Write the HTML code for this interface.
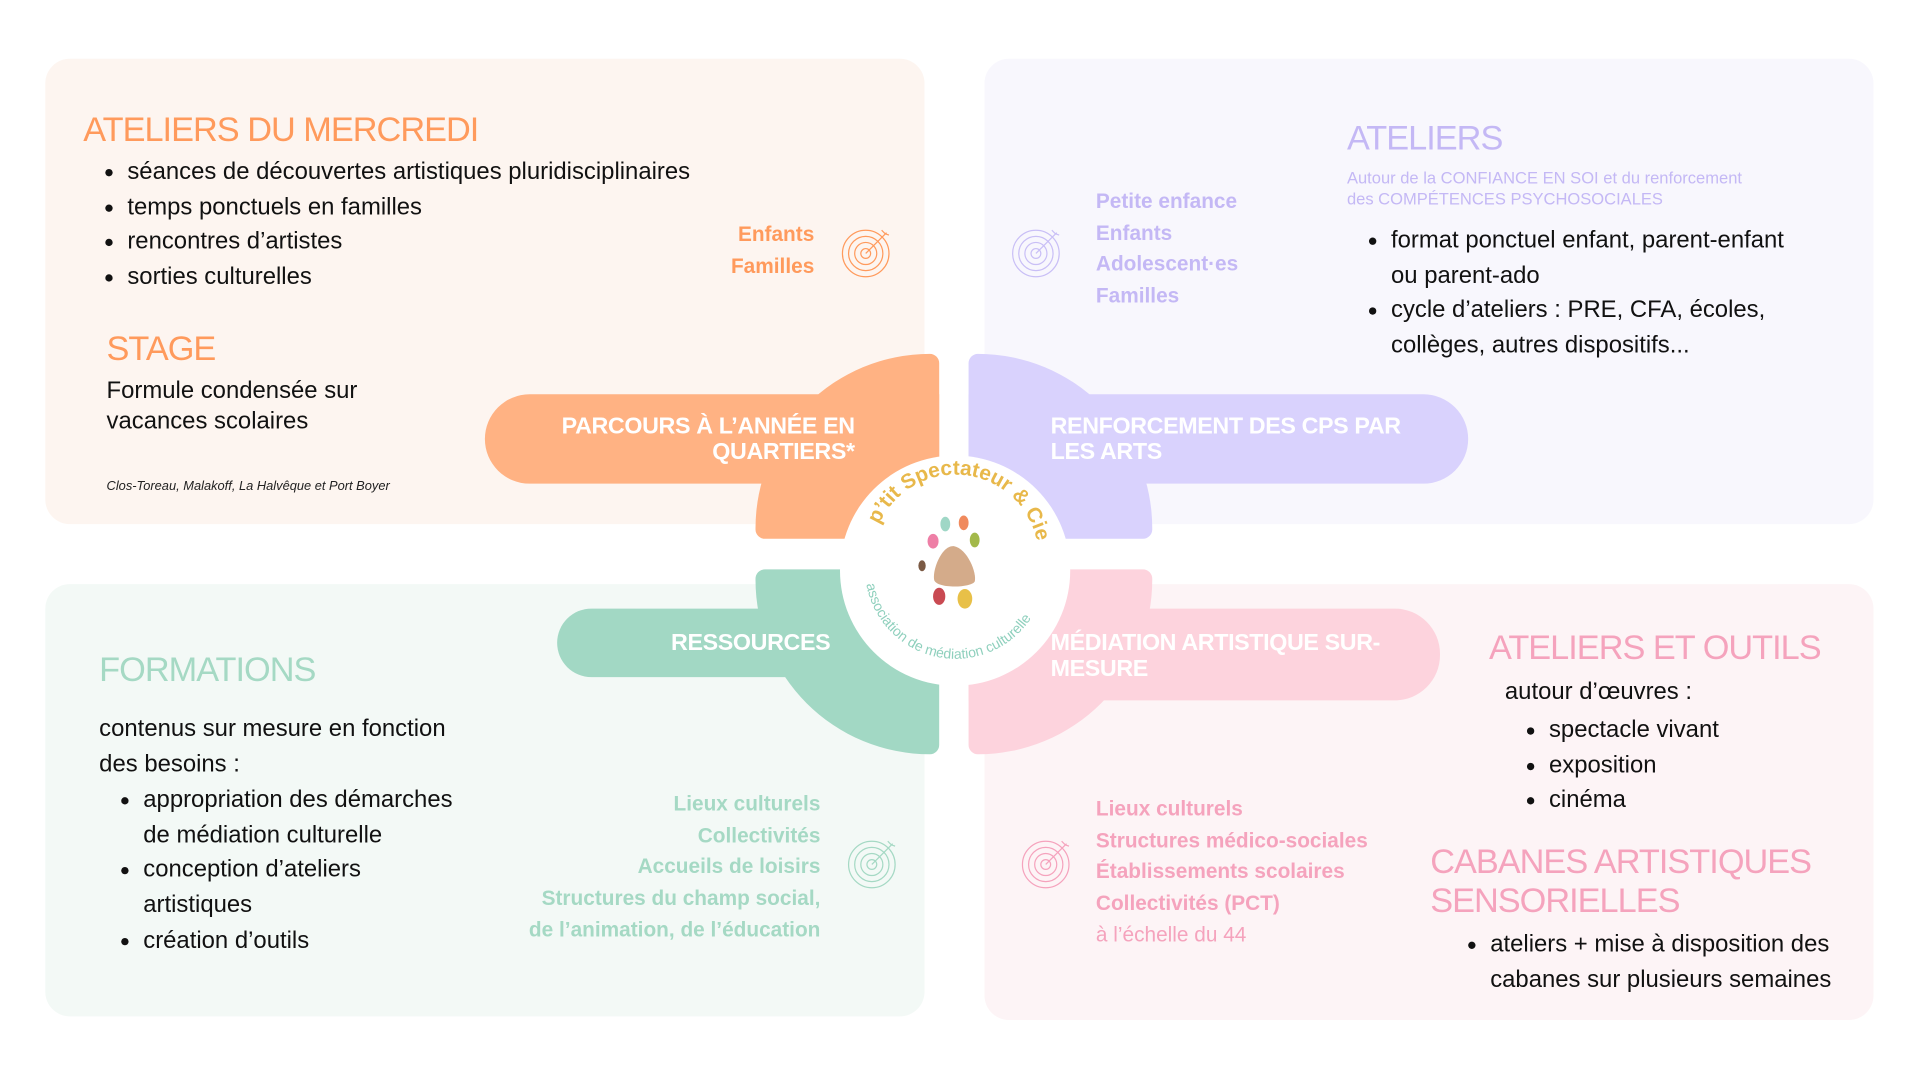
<!DOCTYPE html>
<html><head><meta charset="utf-8"><style>
html,body{margin:0;padding:0;background:#fff;overflow:hidden}
#w{position:absolute;left:0;top:0;width:1568px;height:882px;transform:scale(1.22449);transform-origin:0 0;font-family:"Liberation Sans",sans-serif}
.a{position:absolute;white-space:nowrap}
.card{position:absolute;border-radius:20px}
.t{font-size:28px;font-weight:normal;letter-spacing:-0.8px}
.b{font-size:19.5px;color:#111}
.b li{height:28.7px;line-height:28.7px}
ul{margin:0;padding-left:18px}
.tg{font-weight:bold;font-size:17px;line-height:25.7px}
.pl{position:absolute;color:#fff;font-weight:bold;font-size:19px;line-height:21px;letter-spacing:-0.3px}
</style></head><body><div id="w">
<div class="card" style="left:37px;top:48px;width:718px;height:380px;background:#fdf5f0"></div>
<div class="card" style="left:804px;top:48px;width:726px;height:380px;background:#f8f7fd"></div>
<div class="card" style="left:37px;top:477px;width:718px;height:353px;background:#f3f9f6"></div>
<div class="card" style="left:804px;top:477px;width:726px;height:356px;background:#fdf4f6"></div>

<div class="a" style="left:617px;top:289px;width:150px;height:151px;background:#ffb283;border-radius:150px 8px 0 8px"></div>
<div class="a" style="left:396px;top:322px;width:371px;height:73px;background:#ffb283;border-radius:37px 0 0 37px"></div>
<div class="a" style="left:791px;top:289px;width:150px;height:151px;background:#d9d2fd;border-radius:8px 150px 8px 0"></div>
<div class="a" style="left:791px;top:322px;width:408px;height:73px;background:#d9d2fd;border-radius:0 37px 37px 0"></div>
<div class="a" style="left:617px;top:465px;width:150px;height:151px;background:#a2d8c4;border-radius:8px 0 8px 150px"></div>
<div class="a" style="left:455px;top:497px;width:312px;height:56px;background:#a2d8c4;border-radius:28px 0 0 28px"></div>
<div class="a" style="left:791px;top:465px;width:150px;height:151px;background:#fdd3dd;border-radius:0 8px 150px 8px"></div>
<div class="a" style="left:791px;top:497px;width:385px;height:75px;background:#fdd3dd;border-radius:0 37px 37px 0"></div>
<div class="a" style="left:686px;top:372px;width:188px;height:188px;border-radius:50%;background:#fff"></div>

<div class="pl" style="left:420px;top:338px;width:278px;text-align:right">PARCOURS À L’ANNÉE EN<br>QUARTIERS*</div>
<div class="pl" style="left:858px;top:338px">RENFORCEMENT DES CPS PAR<br>LES ARTS</div>
<div class="pl" style="left:548px;top:515px">RESSOURCES</div>
<div class="pl" style="left:858px;top:515px">MÉDIATION ARTISTIQUE SUR-<br>MESURE</div>

<svg class="a" style="left:686px;top:372px" width="188" height="188" viewBox="0 0 188 188">
<defs><path id="ta" d="M26,100 A68,68 0 1 1 160,86"/><path id="tb" d="M20,90 A74,74 0 0 0 168,94"/></defs>
<text transform="rotate(12 94 94)" font-family="Liberation Sans" font-weight="bold" font-size="17" fill="#e8b84a"><textPath href="#ta" startOffset="50%" text-anchor="middle">p’tit Spectateur &amp; Cie</textPath></text>
<text transform="rotate(10 94 94)" font-family="Liberation Sans" font-size="11.5" fill="#8fd0bd"><textPath href="#tb" startOffset="50%" text-anchor="middle">association de médiation culturelle</textPath></text>
<ellipse cx="86" cy="56" rx="4" ry="6" fill="#9fd7c6"/><ellipse cx="101" cy="55" rx="4" ry="6" fill="#f08a5d"/>
<ellipse cx="76" cy="70" rx="4.5" ry="6" fill="#ee7fa6"/><ellipse cx="110" cy="69" rx="4" ry="6" fill="#a3b94a"/>
<ellipse cx="67" cy="90" rx="3" ry="4.5" fill="#7b5a44"/>
<path d="M93,74 C104,76 112,96 110,103 C107,108 80,109 77,102 C75,94 83,73 93,74Z" fill="#d4ab8a"/>
<ellipse cx="81" cy="115" rx="5" ry="7" fill="#c94a52"/><ellipse cx="102" cy="117" rx="6" ry="8" fill="#e8c048"/>
</svg>

<div class="a t" style="left:68px;top:90px;color:#ff9a5c">ATELIERS DU MERCREDI</div>
<ul class="a b" style="left:86px;top:126px"><li>séances de découvertes artistiques pluridisciplinaires</li><li>temps ponctuels en familles</li><li>rencontres d’artistes</li><li>sorties culturelles</li></ul>
<div class="a tg" style="left:560px;top:179px;width:105px;text-align:right;color:#ff9a5c">Enfants<br>Familles</div>
<div class="a t" style="left:87px;top:269px;color:#ff9a5c">STAGE</div>
<div class="a b" style="left:87px;top:307px;line-height:24.5px">Formule condensée sur<br>vacances scolaires</div>
<div class="a" style="left:87px;top:391px;font-size:10.5px;font-style:italic;color:#222">Clos-Toreau, Malakoff, La Halvêque et Port Boyer</div>

<div class="a t" style="left:1100px;top:97px;color:#c4b8f5">ATELIERS</div>
<div class="a" style="left:1100px;top:137px;font-size:13.5px;line-height:17px;color:#c4b8f5">Autour de la CONFIANCE EN SOI et du renforcement<br>des COMPÉTENCES PSYCHOSOCIALES</div>
<div class="a tg" style="left:895px;top:152px;color:#c4b8f5">Petite enfance<br>Enfants<br>Adolescent·es<br>Familles</div>
<ul class="a b" style="left:1118px;top:182px"><li>format ponctuel enfant, parent-enfant</li><li style="list-style:none">ou parent-ado</li><li>cycle d’ateliers : PRE, CFA, écoles,</li><li style="list-style:none">collèges, autres dispositifs...</li></ul>

<div class="a t" style="left:81px;top:531px;color:#a5d9c4">FORMATIONS</div>
<div class="a b" style="left:81px;top:581px;line-height:29px">contenus sur mesure en fonction<br>des besoins :</div>
<ul class="a b" style="left:99px;top:639px"><li>appropriation des démarches</li><li style="list-style:none">de médiation culturelle</li><li>conception d’ateliers</li><li style="list-style:none">artistiques</li><li>création d’outils</li></ul>
<div class="a tg" style="left:380px;top:644px;width:290px;text-align:right;color:#a5d9c4">Lieux culturels<br>Collectivités<br>Accueils de loisirs<br>Structures du champ social,<br>de l’animation, de l’éducation</div>

<div class="a t" style="left:1216px;top:513px;color:#f5a3bd">ATELIERS ET OUTILS</div>
<div class="a b" style="left:1229px;top:554px">autour d’œuvres :</div>
<ul class="a b" style="left:1247px;top:582px"><li>spectacle vivant</li><li>exposition</li><li>cinéma</li></ul>
<div class="a t" style="left:1168px;top:688px;line-height:32px;color:#f5a3bd">CABANES ARTISTIQUES<br>SENSORIELLES</div>
<ul class="a b" style="left:1199px;top:757px"><li>ateliers + mise à disposition des</li><li style="list-style:none">cabanes sur plusieurs semaines</li></ul>
<div class="a tg" style="left:895px;top:648px;color:#f5a3bd">Lieux culturels<br>Structures médico-sociales<br>Établissements scolaires<br>Collectivités (PCT)<br><span style="font-weight:normal">à l’échelle du 44</span></div>

<svg class="a" style="left:686px;top:184px" width="44" height="44" viewBox="0 0 44 44" fill="none" stroke="#ff9a5c" stroke-width="1"><circle cx="21" cy="23" r="19"/><circle cx="21" cy="23" r="14"/><circle cx="21" cy="23" r="9"/><circle cx="21" cy="23" r="4"/><path d="M21 23 L38 6 M34 4 L37 7 L40 8"/></svg>
<svg class="a" style="left:825px;top:184px" width="44" height="44" viewBox="0 0 44 44" fill="none" stroke="#c9bff6" stroke-width="1"><circle cx="21" cy="23" r="19"/><circle cx="21" cy="23" r="14"/><circle cx="21" cy="23" r="9"/><circle cx="21" cy="23" r="4"/><path d="M21 23 L38 6 M34 4 L37 7 L40 8"/></svg>
<svg class="a" style="left:691px;top:683px" width="44" height="44" viewBox="0 0 44 44" fill="none" stroke="#a5d9c4" stroke-width="1"><circle cx="21" cy="23" r="19"/><circle cx="21" cy="23" r="14"/><circle cx="21" cy="23" r="9"/><circle cx="21" cy="23" r="4"/><path d="M21 23 L38 6 M34 4 L37 7 L40 8"/></svg>
<svg class="a" style="left:833px;top:683px" width="44" height="44" viewBox="0 0 44 44" fill="none" stroke="#f5a3bd" stroke-width="1"><circle cx="21" cy="23" r="19"/><circle cx="21" cy="23" r="14"/><circle cx="21" cy="23" r="9"/><circle cx="21" cy="23" r="4"/><path d="M21 23 L38 6 M34 4 L37 7 L40 8"/></svg>
</div></body></html>
